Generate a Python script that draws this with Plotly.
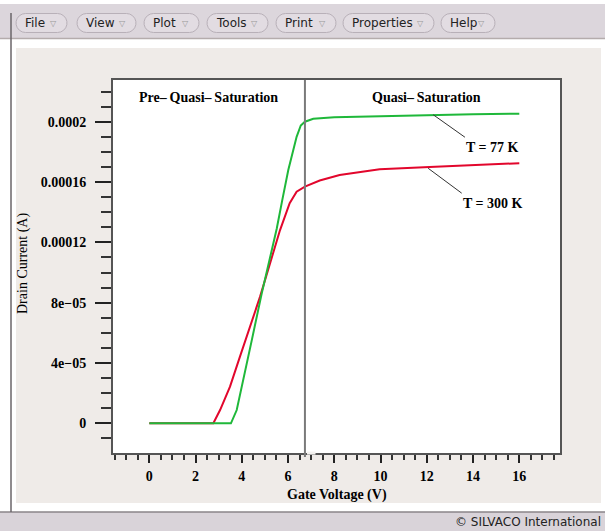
import numpy as np
import plotly.graph_objects as go

# ---- data: drain current vs gate voltage at two temperatures ----
vg_77 = [0.0, 3.53, 3.78, 4.07, 4.43, 4.86, 5.22, 5.51, 5.75, 6.01, 6.37, 6.55, 6.73,
         7.09, 8.0, 10.0, 12.0, 14.0, 16.0]
id_77 = [0.0, 0.0, 8.8e-6, 2.87e-5, 5.5e-5, 8.6e-5, 1.10e-4, 1.29e-4, 1.48e-4, 1.68e-4,
         1.90e-4, 1.975e-4, 2.0e-4, 2.02e-4, 2.03e-4, 2.038e-4, 2.045e-4, 2.05e-4, 2.053e-4]

vg_300 = [0.0, 2.77, 3.06, 3.49, 3.92, 4.35, 4.79, 5.22, 5.65, 6.07, 6.37, 6.73, 7.37,
          8.23, 9.96, 12.12, 14.0, 16.0]
id_300 = [0.0, 0.0, 8.8e-6, 2.43e-5, 4.42e-5, 6.4e-5, 8.4e-5, 1.06e-4, 1.28e-4, 1.46e-4,
          1.536e-4, 1.57e-4, 1.61e-4, 1.647e-4, 1.685e-4, 1.70e-4, 1.712e-4, 1.725e-4]

y_tickvals = [0.0, 4e-5, 8e-5, 1.2e-4, 1.6e-4, 2e-4]
y_ticktext = ["0", "4e\u221205", "8e\u221205", "0.00012", "0.00016", "0.0002"]

boundary_vg = 6.73          # pre-quasi / quasi saturation boundary
regions = ["Pre\u2013\u2009Quasi\u2013\u2009Saturation", "Quasi\u2013\u2009Saturation"]
region_x = [2.54, 11.98]

curve_labels = ["T = 77 K", "T = 300 K"]
label_pos = [(14.85, 1.828e-4), (14.85, 1.459e-4)]
leader_from = [(12.28, 2.046e-4), (12.06, 1.691e-4)]
leader_to = [(13.65, 1.897e-4), (13.51, 1.526e-4)]

menu_items = ["File", "View", "Plot", "Tools", "Print", "Properties", "Help"]
menu_spans = [(16, 67), (77, 136), (144, 199), (207, 268), (276, 336), (343, 434), (441, 495)]

# ---- page geometry ----
W, H = 605, 531
ML, MR, MT, MB = 113, 45, 80, 78
PW, PH = W - ML - MR, H - MT - MB

def px(x):
    return (x - ML) / PW

def py(y):
    return (H - MB - y) / PH

SERIF = "Liberation Serif"
SANS = "DejaVu Sans"
BOLD = dict(family=SERIF, size=14, color="black", weight="bold")

fig = go.Figure()
fig.add_trace(go.Scatter(x=vg_300, y=id_300, mode="lines",
                         line=dict(color="#e2062c", width=2), hoverinfo="skip"))
fig.add_trace(go.Scatter(x=vg_77, y=id_77, mode="lines",
                         line=dict(color="#1fb83a", width=2), hoverinfo="skip"))

shapes = []
# window chrome
shapes.append(dict(type="rect", xref="paper", yref="paper", x0=px(0), x1=px(W), y0=py(4), y1=py(38.5),
                   fillcolor="#dcd6dc", line_width=0, layer="below"))
shapes.append(dict(type="line", xref="paper", yref="paper", x0=px(0), x1=px(W), y0=py(38.5), y1=py(38.5),
                   line=dict(color="#b4acac", width=1.5), layer="below"))
shapes.append(dict(type="rect", xref="paper", yref="paper", x0=px(16), x1=px(601), y0=py(48), y1=py(503),
                   fillcolor="#efebe8", line_width=0, layer="below"))
shapes.append(dict(type="rect", xref="paper", yref="paper", x0=0, x1=1, y0=0, y1=1,
                   fillcolor="white", line_width=0, layer="below"))
shapes.append(dict(type="rect", xref="paper", yref="paper", x0=px(0), x1=px(W), y0=py(512), y1=py(H),
                   fillcolor="#d9d3d9", line_width=0, layer="below"))
shapes.append(dict(type="line", xref="paper", yref="paper", x0=px(0), x1=px(W), y0=py(512), y1=py(512),
                   line=dict(color="#8a8488", width=1.5), layer="below"))
shapes.append(dict(type="line", xref="paper", yref="paper", x0=px(11), x1=px(11), y0=py(13), y1=py(512),
                   line=dict(color="#6a6468", width=1.5), layer="below"))

# menu buttons as rounded pills
def pill(x0, x1, y0, y1, n=10):
    r = (y1 - y0) / 2
    cy = (y0 + y1) / 2
    pts = []
    for a in np.linspace(-np.pi / 2, np.pi / 2, n):
        pts.append((x1 - r + r * np.cos(a), cy + r * np.sin(a)))
    for a in np.linspace(np.pi / 2, 3 * np.pi / 2, n):
        pts.append((x0 + r + r * np.cos(a), cy + r * np.sin(a)))
    return "M " + " L ".join(f"{px(a):.5f},{py(b):.5f}" for a, b in pts) + " Z"

annotations = []
for name, (x0, x1) in zip(menu_items, menu_spans):
    shapes.append(dict(type="path", xref="paper", yref="paper", path=pill(x0, x1, 13.5, 32.5),
                       fillcolor="#e2dce2", line=dict(color="#b8b0b8", width=1), layer="below"))
    annotations.append(dict(xref="paper", yref="paper", x=px(x0 + 7), y=py(23), xanchor="left",
                            yanchor="middle", showarrow=False, text=name,
                            font=dict(family=SANS, size=12, color="#222")))
    annotations.append(dict(xref="paper", yref="paper", x=px(x1 - 14), y=py(23.5), xanchor="center",
                            yanchor="middle", showarrow=False, text="\u25bd",
                            font=dict(family=SANS, size=8, color="#999")))

annotations.append(dict(xref="paper", yref="paper", x=px(603), y=py(522), xanchor="right",
                        yanchor="middle", showarrow=False, text="\u00a9 SILVACO International",
                        font=dict(family=SANS, size=12, color="#222")))

# small break in the bottom axis line just right of the region boundary
shapes.append(dict(type="rect", xref="paper", yref="paper", x0=px(307), x1=px(315.5),
                   y0=py(454.6), y1=py(451.6), fillcolor="#f4f2f0", line_width=0, layer="above"))

# boundary line between the two regions
shapes.append(dict(type="line", xref="x", yref="paper", x0=boundary_vg, x1=boundary_vg,
                   y0=py(457), y1=1, line=dict(color="#7a7a7a", width=2)))

# leader lines for the curve labels
for (x0, y0), (x1, y1) in zip(leader_from, leader_to):
    shapes.append(dict(type="line", xref="x", yref="y", x0=x0, y0=y0, x1=x1, y1=y1,
                       line=dict(color="#333", width=1)))

for txt, (x, y) in zip(curve_labels, label_pos):
    annotations.append(dict(x=x, y=y, xref="x", yref="y", xanchor="center", yanchor="middle",
                            showarrow=False, text=txt, font=BOLD))

for txt, x in zip(regions, region_x):
    annotations.append(dict(x=x, y=py(97.5), xref="x", yref="paper", xanchor="center",
                            yanchor="middle", showarrow=False, text=txt, font=BOLD))

# axis titles
annotations.append(dict(xref="paper", yref="paper", x=0.5, y=py(495), xanchor="center",
                        yanchor="middle", showarrow=False, text="Gate Voltage (V)", font=BOLD))
annotations.append(dict(xref="paper", yref="paper", x=px(23), y=py(264), xanchor="center",
                        yanchor="middle", showarrow=False, text="Drain Current (A)", textangle=-90,
                        font=dict(family=SERIF, size=14, color="black")))

fig.update_layout(
    width=W, height=H,
    margin=dict(l=ML, r=MR, t=MT, b=MB),
    paper_bgcolor="white",
    plot_bgcolor="white",
    showlegend=False,
    shapes=shapes,
    annotations=annotations,
    xaxis=dict(
        range=[-1.57, 17.76], tickmode="linear", tick0=0, dtick=2,
        showgrid=False, zeroline=False,
        showline=True, linecolor="#555", linewidth=2, mirror=True,
        ticks="outside", ticklen=8, tickwidth=2, tickcolor="#222",
        ticklabelstandoff=1,
        tickfont=BOLD,
        minor=dict(dtick=0.5, tick0=0, ticks="outside", ticklen=5, tickwidth=1.5, tickcolor="#333",
                   showgrid=False),
    ),
    yaxis=dict(
        range=[-1.969e-5, 2.2766e-4], tickmode="array", tickvals=y_tickvals, ticktext=y_ticktext,
        showgrid=False, zeroline=False,
        showline=True, linecolor="#555", linewidth=2, mirror=True,
        ticks="outside", ticklen=16, tickwidth=2, tickcolor="#222",
        ticklabelstandoff=6,
        tickfont=BOLD,
        minor=dict(dtick=1e-5, tick0=0, ticks="outside", ticklen=10, tickwidth=1.5, tickcolor="#333",
                   showgrid=False),
    ),
)

fig.write_html("out.html")
